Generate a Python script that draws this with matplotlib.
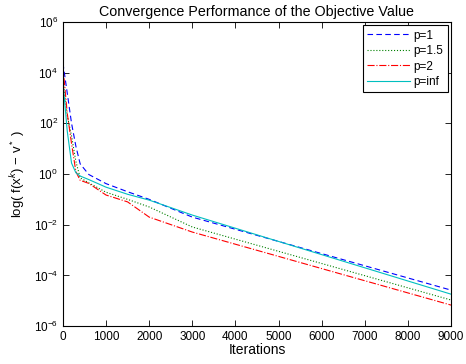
"""
Convergence curves of the objective value for several p-norms.
"""
import numpy as np
import matplotlib
matplotlib.use("Agg")
import matplotlib.pyplot as plt

plt.rcParams["font.family"] = ["Liberation Sans", "DejaVu Sans"]
plt.rcParams["mathtext.fontset"] = "custom"
plt.rcParams["mathtext.rm"] = "Liberation Sans"
plt.rcParams["mathtext.it"] = "Liberation Sans:italic"

iters = [0, 100, 200, 300, 400, 600, 1000, 1500, 2000, 3000,
         4000, 5000, 6000, 7000, 8000, 9000]

# log10 of f(x^k) - v*
log_p1 = [4.38, 3.2, 2.0, 1.1, 0.4, -0.02, -0.38, -0.7, -1.0, -1.7,
          -2.18, -2.66, -3.14, -3.62, -4.1, -4.58]
log_p15 = [3.7, 2.3, 1.5, 0.5, -0.15, -0.35, -0.72, -1.0, -1.3, -2.09,
           -2.57, -3.05, -3.53, -4.01, -4.49, -4.97]
log_p2 = [4.24, 2.4, 1.2, 0.1, -0.25, -0.37, -0.83, -1.1, -1.7, -2.29,
          -2.77, -3.25, -3.73, -4.21, -4.69, -5.17]
log_pinf = [3.64, 1.7, 0.43, 0.05, -0.08, -0.22, -0.52, -0.8, -1.03, -1.62,
            -2.14, -2.66, -3.18, -3.7, -4.22, -4.74]

fig = plt.figure(figsize=(4.66, 3.64), dpi=100)
ax = fig.add_axes([0.135, 0.104, 0.833, 0.836])

lw = 0.8
ax.semilogy(iters, 10 ** np.array(log_p1), "b--", lw=lw, label="p=1",
            dashes=(5, 3))
ax.semilogy(iters, 10 ** np.array(log_p15), "g:", lw=lw, label="p=1.5")
ax.semilogy(iters, 10 ** np.array(log_p2), "r-.", lw=lw, label="p=2")
ax.semilogy(iters, 10 ** np.array(log_pinf), "c-", lw=lw, label="p=inf")

ax.set_xlim(0, 9000)
ax.set_ylim(1e-6, 1e6)
ax.set_xticks(range(0, 9001, 1000))
ax.set_yticks([10.0 ** e for e in range(-6, 7, 2)])
ax.yaxis.set_minor_locator(matplotlib.ticker.NullLocator())
ax.tick_params(direction="in", which="both", top=True, right=True,
               labelsize=8.5, length=4, width=0.6)
for s in ax.spines.values():
    s.set_linewidth(0.8)

ax.set_title("Convergence Performance of the Objective Value", fontsize=10.3,
             pad=4)
ax.set_xlabel("Iterations", fontsize=10, labelpad=0)
ax.set_ylabel(r"log( f(x$^k$) $-$ v$^*$ )", fontsize=9.5, labelpad=4)

leg = ax.legend(loc="upper right", fontsize=8.5, fancybox=False,
                edgecolor="black", framealpha=1, borderaxespad=0.3,
                handlelength=3.6, borderpad=0.35, labelspacing=0.3,
                handletextpad=0.3)
leg.get_frame().set_linewidth(0.8)

fig.savefig("out.png", dpi=100)
